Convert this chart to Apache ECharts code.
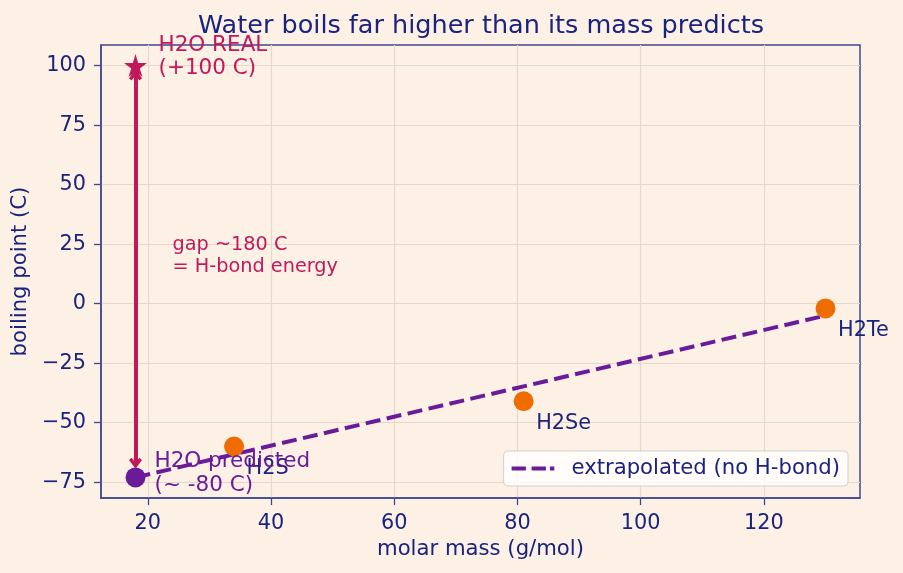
<!DOCTYPE html>
<html>
<head>
<meta charset="utf-8">
<script src="https://cdn.jsdelivr.net/npm/echarts@6/dist/echarts.min.js"></script>
<style>
  html, body { margin: 0; padding: 0; background: #fdf1e6; }
  #chart { width: 903px; height: 573px; }
</style>
</head>
<body>
<div id="chart"></div>
<script>
// hydrides of group 16
const compounds = ['H2S', 'H2Se', 'H2Te'];
const molarMass = [34, 81, 130];
const boilingPoint = [-60, -41, -2];

// water
const h2oMass = 18;
const h2oReal = 100;
const h2oPredicted = -73;

// trend line through the heavier hydrides
const fitMass = [18, 130];
const fitBoil = [-73, -5];

const xTicks = [20, 40, 60, 80, 100, 120];
const yTicks = [-75, -50, -25, 0, 25, 50, 75, 100];

const navy = '#1a237e';
const spine = '#3f478f';
const purple = '#6a1b9a';
const orange = '#ef6c00';
const crimson = '#c2185b';
const font = 'DejaVu Sans';

const starPath = 'path://M50,0 L61,35 L98,35 L68,57 L79,91 L50,70 L21,91 L32,57 L2,35 L39,35 Z';
const chevron = 'path://M5,0 L10,6.8 L8,8.6 L5,4.4 L2,8.6 L0,6.8 Z';
const dashIcon = 'path://M0,0 H14.3 V4 H0 Z M20,0 H34.3 V4 H20 Z M38.3,0 H42.7 V4 H38.3 Z';

function minus(v) {
    return v < 0 ? '\u2212' + Math.abs(v) : String(v);
}

let myChart = echarts.init(document.getElementById('chart'));
let option = {
    backgroundColor: '#fdf1e6',
    textStyle: { fontFamily: font },
    title: {
        text: 'Water boils far higher than its mass predicts',
        left: 476, top: 8, textAlign: 'center',
        textStyle: { color: navy, fontSize: 25.5, fontWeight: 'normal', fontFamily: font }
    },
    legend: {
        right: 55, bottom: 87,
        data: [{ name: 'extrapolated (no H-bond)', icon: dashIcon }],
        itemWidth: 43, itemHeight: 4,
        padding: [7, 8, 7, 8],
        backgroundColor: 'rgba(255,255,255,0.8)',
        borderColor: '#d0d0d0', borderWidth: 1, borderRadius: 4,
        itemStyle: { color: purple },
        textStyle: { color: navy, fontSize: 21.2, fontFamily: font, padding: [0, 0, 0, 12] }
    },
    grid: {
        left: 101, right: 43, top: 45, bottom: 75,
        show: true, borderColor: spine, borderWidth: 1.5
    },
    xAxis: {
        type: 'value', min: 12.4, max: 135.6,
        name: 'molar mass (g/mol)', nameLocation: 'middle', nameGap: 39,
        nameTextStyle: { color: navy, fontSize: 21.2, fontFamily: font },
        axisLine: { show: true, onZero: false, lineStyle: { color: spine, width: 1.5 } },
        axisTick: { show: true, length: 7, customValues: xTicks, lineStyle: { color: spine, width: 1.3 } },
        axisLabel: { customValues: xTicks, margin: 15, color: navy, fontSize: 20.8, fontFamily: font },
        splitLine: { show: true, lineStyle: { color: '#e5d8ca', width: 1.2 } }
    },
    yAxis: {
        type: 'value', min: -81.65, max: 108.65,
        name: 'boiling point (C)', nameLocation: 'middle', nameGap: 65,
        nameTextStyle: { color: navy, fontSize: 21.2, fontFamily: font },
        axisLine: { show: true, onZero: false, lineStyle: { color: spine, width: 1.5 } },
        axisTick: { show: true, length: 7, customValues: yTicks, lineStyle: { color: spine, width: 1.3 } },
        axisLabel: { customValues: yTicks, margin: 15, color: navy, fontSize: 20.8, fontFamily: font, formatter: minus },
        splitLine: { show: true, lineStyle: { color: '#e5d8ca', width: 1.2 } }
    },
    series: [
        {
            name: 'extrapolated (no H-bond)',
            type: 'line',
            symbol: 'none',
            z: 2,
            lineStyle: { color: purple, width: 4, type: [15, 6.5] },
            itemStyle: { color: purple },
            data: fitMass.map((m, i) => [m, fitBoil[i]]),
            markPoint: {
                silent: true,
                symbol: 'circle', symbolSize: 0,
                label: {
                    show: true, position: 'right', distance: 0,
                    color: crimson, fontSize: 19.3, lineHeight: 22, fontFamily: font
                },
                data: [{ coord: [24, 20], value: 'gap ~180 C\n= H-bond energy' }]
            }
        },
        {
            name: 'hydrides',
            type: 'scatter',
            symbol: 'circle', symbolSize: 20,
            z: 4,
            itemStyle: { color: orange, opacity: 1 },
            label: {
                show: true, position: 'right', distance: 2.5, offset: [0, 22],
                color: navy, fontSize: 20.8, fontFamily: font,
                formatter: p => compounds[p.dataIndex]
            },
            data: molarMass.map((m, i) => [m, boilingPoint[i]])
        },
        {
            name: 'h2o predicted',
            type: 'scatter',
            symbol: 'circle', symbolSize: 20,
            z: 4,
            itemStyle: { color: purple, opacity: 1 },
            label: {
                show: true, position: 'right', distance: 9, offset: [0, -4],
                color: purple, fontSize: 21.5, lineHeight: 24, fontFamily: font,
                formatter: 'H2O predicted\n(~ -80 C)'
            },
            data: [[h2oMass, h2oPredicted]]
        },
        {
            name: 'h2o real',
            type: 'scatter',
            symbol: starPath, symbolSize: 23,
            z: 5,
            itemStyle: { color: crimson, opacity: 1 },
            label: {
                show: true, position: 'right', distance: 11.5, offset: [0, -9],
                color: crimson, fontSize: 21.5, lineHeight: 23, fontFamily: font,
                formatter: 'H2O REAL\n(+100 C)'
            },
            data: [[h2oMass, h2oReal]],
            markLine: {
                silent: true,
                symbol: [chevron, chevron],
                symbolSize: [13, 11],
                label: { show: false },
                lineStyle: { color: crimson, width: 4, type: 'solid' },
                data: [[{ coord: [h2oMass, 96] }, { coord: [h2oMass, -67] }]]
            }
        }
    ]
};
myChart.setOption(option);
</script>
</body>
</html>
